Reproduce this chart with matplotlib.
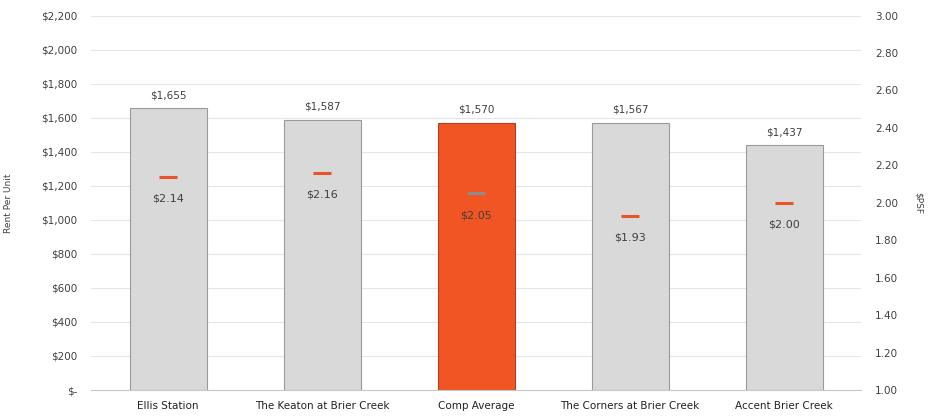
import matplotlib; matplotlib.use('Agg')
import matplotlib.pyplot as plt
import numpy as np

# Chart data
properties = ['Ellis Station', 'The Keaton at Brier Creek', 'Comp Average',
              'The Corners at Brier Creek', 'Accent Brier Creek']
rent_per_unit = [1655, 1587, 1570, 1567, 1437]
rent_psf = [2.14, 2.16, 2.05, 1.93, 2.00]
rent_ticks = [0, 200, 400, 600, 800, 1000, 1200, 1400, 1600, 1800, 2000, 2200]
psf_ticks = [1.00, 1.20, 1.40, 1.60, 1.80, 2.00, 2.20, 2.40, 2.60, 2.80, 3.00]
highlight = 'Comp Average'

plt.rcParams['font.family'] = ['DejaVu Sans']
text_col = '#404040'
grey_bar = '#d9d9d9'
orange = '#f05523'

fig = plt.figure(figsize=(9.3, 4.16), dpi=100)
ax = fig.add_axes([0.098, 0.0625, 0.828, 0.9])
ax2 = ax.twinx()

x = np.arange(len(properties))
colors = [orange if p == highlight else grey_bar for p in properties]
edges = ['#b04020' if p == highlight else '#9a9a9a' for p in properties]
bars = ax.bar(x, rent_per_unit, width=0.5, color=colors, edgecolor=edges,
              linewidth=0.8, zorder=2)
for xi, v in zip(x, rent_per_unit):
    ax.annotate(f'${v:,.0f}', (xi, v), xytext=(0, 6), textcoords='offset points',
                ha='center', va='bottom', fontsize=7.5, color=text_col)

ax.set_xlim(-0.5, len(properties) - 0.5)
ax.set_ylim(0, 2200)
ax.set_yticks(rent_ticks)
ax.set_yticklabels(['$-' if t == 0 else f'${t:,.0f}' for t in rent_ticks],
                   fontsize=7.5, color=text_col)
ax.set_xticks(x)
ax.set_xticklabels(properties, fontsize=7.5, color='#222222')
ax.set_ylabel('Rent Per Unit', fontsize=6.5, color=text_col, labelpad=20)
ax.grid(axis='y', color='#e6e6e6', linewidth=0.8, zorder=0)
ax.set_axisbelow(True)
for s in ['top', 'right', 'left']:
    ax.spines[s].set_visible(False)
ax.spines['bottom'].set_color('#c8c8c8')
ax.tick_params(axis='y', length=0, pad=10)
ax.tick_params(axis='x', length=0, pad=8)

# PSF markers on secondary axis
mcolors = ['#8c8c8c' if p == highlight else '#e8552a' for p in properties]
ax2.scatter(x, rent_psf, marker='_', s=180, linewidths=2.2, c=mcolors, zorder=3)
for xi, v in zip(x, rent_psf):
    ax2.annotate(f'${v:.2f}', (xi, v), xytext=(0, -12), textcoords='offset points',
                 ha='center', va='top', fontsize=8, color=text_col)
ax2.set_ylim(1.0, 3.0)
ax2.set_yticks(psf_ticks)
ax2.set_yticklabels([f'{t:.2f}' for t in psf_ticks], fontsize=7.5, color=text_col)
ax2.set_ylabel('$PSF', fontsize=6.5, color=text_col, rotation=270, labelpad=18)
for s in ax2.spines.values():
    s.set_visible(False)
ax2.tick_params(axis='y', length=0, pad=10)

fig.savefig('out.png', dpi=100)
